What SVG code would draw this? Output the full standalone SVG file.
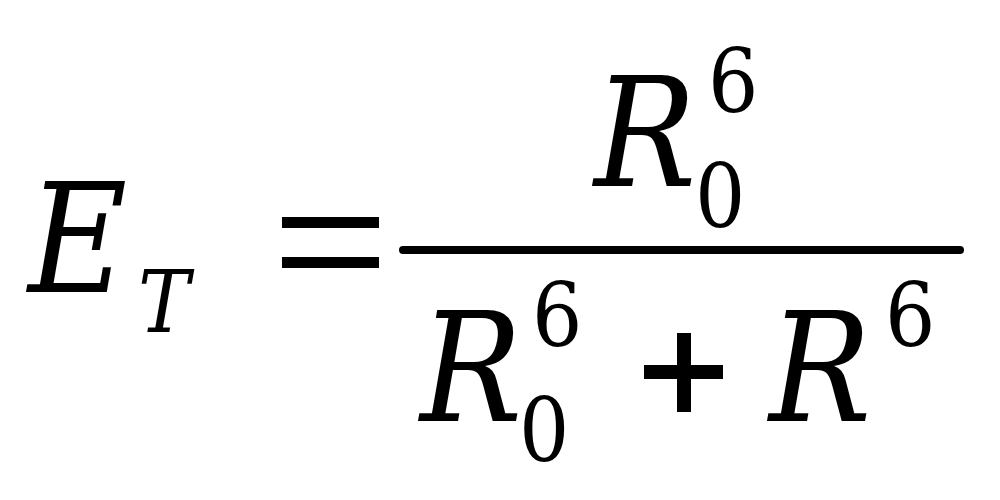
<svg xmlns="http://www.w3.org/2000/svg" width="1000" height="500" viewBox="0 0 1000 500">
<style>
.v{font-family:"DejaVu Serif Condensed","DejaVu Serif",serif;font-style:italic;fill:#000}
.n{font-family:"DejaVu Serif Condensed","DejaVu Serif",serif;fill:#000}
</style>
<rect width="1000" height="500" fill="#fff"/>
<g id="lhs">
<text class="v" x="28" y="292" font-size="151">E</text>
<text class="v" x="138" y="332" font-size="86">T</text>
</g>
<g id="eq">
<rect x="282" y="217" width="97" height="11" fill="#000"/>
<rect x="282" y="257" width="97" height="11" fill="#000"/>
</g>
<g id="numerator">
<text class="v" x="594" y="186" font-size="151">R</text>
<text class="n" x="708" y="112" font-size="88">6</text>
<text class="n" x="695" y="227" font-size="88">0</text>
</g>
<line x1="403" y1="250" x2="960" y2="250" stroke="#000" stroke-width="8" stroke-linecap="round"/>
<g id="denominator">
<text class="v" x="420" y="421" font-size="151">R</text>
<text class="n" x="532" y="346" font-size="88">6</text>
<text class="n" x="519" y="461" font-size="88">0</text>
<rect x="644" y="365" width="79" height="14" fill="#000"/>
<rect x="677" y="333" width="14" height="79" fill="#000"/>
<text class="v" x="769" y="421" font-size="151">R</text>
<text class="n" x="885" y="346" font-size="88">6</text>
</g>
</svg>
